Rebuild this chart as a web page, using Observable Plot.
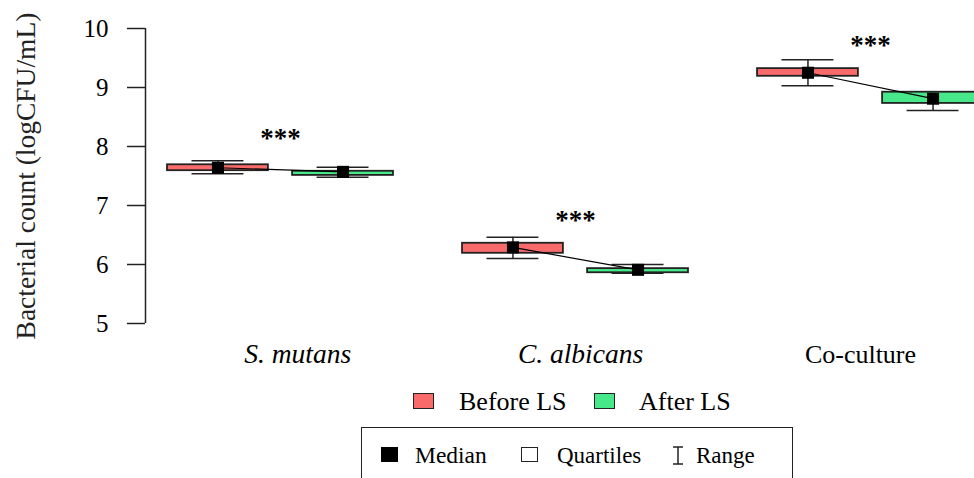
<!DOCTYPE html>
<html>
<head>
<meta charset="utf-8">
<script src="https://cdn.jsdelivr.net/npm/d3@7"></script>
<script src="https://cdn.jsdelivr.net/npm/@observablehq/plot@0.6"></script>
<style>
  html, body { margin: 0; padding: 0; background: #fff; }
  #wrap { position: relative; width: 974px; height: 478px; overflow: hidden; font-family: "Liberation Serif", "Times New Roman", serif; color: #000; }
  #chart { position: absolute; left: 0; top: 0; }
  .leg { position: absolute; white-space: nowrap; line-height: 1; }
  .sw { position: absolute; box-sizing: border-box; }
</style>
</head>
<body>
<div id="wrap">
  <div id="chart"></div>
  <!-- legend 1 -->
  <div class="sw" style="left:413px;top:393px;width:21px;height:16px;background:#F96A6A;border:1.5px solid #222;"></div>
  <div class="leg" style="left:459px;top:389px;font-size:26px;">Before LS</div>
  <div class="sw" style="left:594px;top:393px;width:21px;height:16px;background:#46E88A;border:1.5px solid #222;"></div>
  <div class="leg" style="left:639px;top:389px;font-size:26px;">After LS</div>
  <!-- legend 2 -->
  <div class="sw" style="left:361px;top:427px;width:432px;height:60px;border:1.5px solid #222;"></div>
  <div class="sw" style="left:381px;top:447px;width:17px;height:15px;background:#000;"></div>
  <div class="leg" style="left:415px;top:444px;font-size:23.5px;">Median</div>
  <div class="sw" style="left:521px;top:447px;width:17px;height:15px;background:#fff;border:1.3px solid #222;"></div>
  <div class="leg" style="left:557px;top:444px;font-size:23px;">Quartiles</div>
  <svg class="sw" style="left:670px;top:446px;" width="16" height="20">
    <line x1="3" y1="1" x2="13" y2="1" stroke="#222" stroke-width="1.5"/>
    <line x1="8" y1="1" x2="8" y2="18" stroke="#222" stroke-width="1.5"/>
    <line x1="3" y1="18" x2="13" y2="18" stroke="#222" stroke-width="1.5"/>
  </svg>
  <div class="leg" style="left:696px;top:444px;font-size:23px;">Range</div>
</div>
<script>
// ---- data ----
const groups = ["S. mutans", "C. albicans", "Co-culture"];
const italicName = [true, true, false];
const conditions = ["Before LS", "After LS"];
const medBefore = [7.64, 6.29, 9.25];
const medAfter  = [7.57, 5.91, 8.81];
const q1Before  = [7.59, 6.19, 9.19];
const q3Before  = [7.69, 6.36, 9.32];
const q1After   = [7.51, 5.86, 8.73];
const q3After   = [7.58, 5.93, 8.92];
const minBefore = [7.54, 6.10, 9.03];
const maxBefore = [7.76, 6.46, 9.47];
const minAfter  = [7.48, 5.85, 8.61];
const maxAfter  = [7.65, 6.00, 8.92];
const sigLabel  = ["***", "***", "***"];
const sigY      = [8.17, 6.78, 9.75];
const yTicks    = [5, 6, 7, 8, 9, 10];
const yTitle    = "Bacterial count (logCFU/mL)";
const colors    = ["#F96A6A", "#46E88A"];

// ---- build table ----
const offset = 0.212, boxHalf = 0.171, capHalf = 0.088;
const rows = [];
groups.forEach((g, i) => {
  rows.push({g, i, cond: conditions[0], x: i - offset, med: medBefore[i], q1: q1Before[i], q3: q3Before[i], lo: minBefore[i], hi: maxBefore[i]});
  rows.push({g, i, cond: conditions[1], x: i + offset, med: medAfter[i], q1: q1After[i], q3: q3After[i], lo: minAfter[i], hi: maxAfter[i]});
});
const labelRows = groups.map((g, i) => ({g, i, it: italicName[i], lx: i + [0.058, 0.017, -0.034][i]}));
const sigRows = groups.map((g, i) => ({i, s: sigLabel[i], y: sigY[i]}));

const xDomain = [-0.4576, 2.3525];
const font = "Liberation Serif, Times New Roman, serif";

const chart = Plot.plot({
  width: 974,
  height: 380,
  marginLeft: 145,
  marginRight: 0,
  marginTop: 28,
  marginBottom: 57,
  style: {fontFamily: font, color: "#000", background: "#fff", overflow: "hidden"},
  x: {domain: xDomain, axis: null},
  y: {domain: [5, 10], axis: null},
  color: {domain: conditions, range: colors},
  marks: [
    Plot.axisY({ticks: yTicks, tickFormat: d3.format("d"), tickSize: 18, tickPadding: 19, fontSize: 25, label: null, stroke: "#222", strokeWidth: 1.5}),
    Plot.ruleX([xDomain[0]], {y1: 5, y2: 10, stroke: "#222", strokeWidth: 1.5}),
    Plot.text([yTitle], {frameAnchor: "left", rotate: -90, dx: -119, fontSize: 27.5, fill: "#222", textAnchor: "middle", lineAnchor: "middle"}),
    // whiskers
    Plot.ruleX(rows, {x: "x", y1: "lo", y2: "hi", stroke: "#222", strokeWidth: 1.5}),
    Plot.ruleY(rows, {y: "lo", x1: d => d.x - capHalf, x2: d => d.x + capHalf, stroke: "#222", strokeWidth: 1.5}),
    Plot.ruleY(rows, {y: "hi", x1: d => d.x - capHalf, x2: d => d.x + capHalf, stroke: "#222", strokeWidth: 1.5}),
    // boxes
    Plot.rect(rows, {x1: d => d.x - boxHalf, x2: d => d.x + boxHalf, y1: "q1", y2: "q3", fill: "cond", stroke: "#222", strokeWidth: 1.8}),
    // median connector
    Plot.line(rows, {x: "x", y: "med", z: "g", stroke: "#000", strokeWidth: 1.2}),
    // medians
    Plot.dot(rows, {x: "x", y: "med", symbol: "square", r: 6.8, fill: "#000", stroke: null}),
    // significance
    Plot.text(sigRows, {x: "i", y: "y", text: "s", fontSize: 27, fontWeight: "bold", fill: "#000", dy: 2}),
    // category labels
    Plot.text(labelRows.filter(d => d.it), {x: "lx", y: () => 5, text: "g", dy: 39, lineAnchor: "bottom", fontSize: 27.5, fontStyle: "italic", fill: "#000"}),
    Plot.text(labelRows.filter(d => !d.it), {x: "lx", y: () => 5, text: "g", dy: 39, lineAnchor: "bottom", fontSize: 26, fill: "#000"})
  ]
});
document.getElementById("chart").appendChild(chart);
</script>
</body>
</html>
